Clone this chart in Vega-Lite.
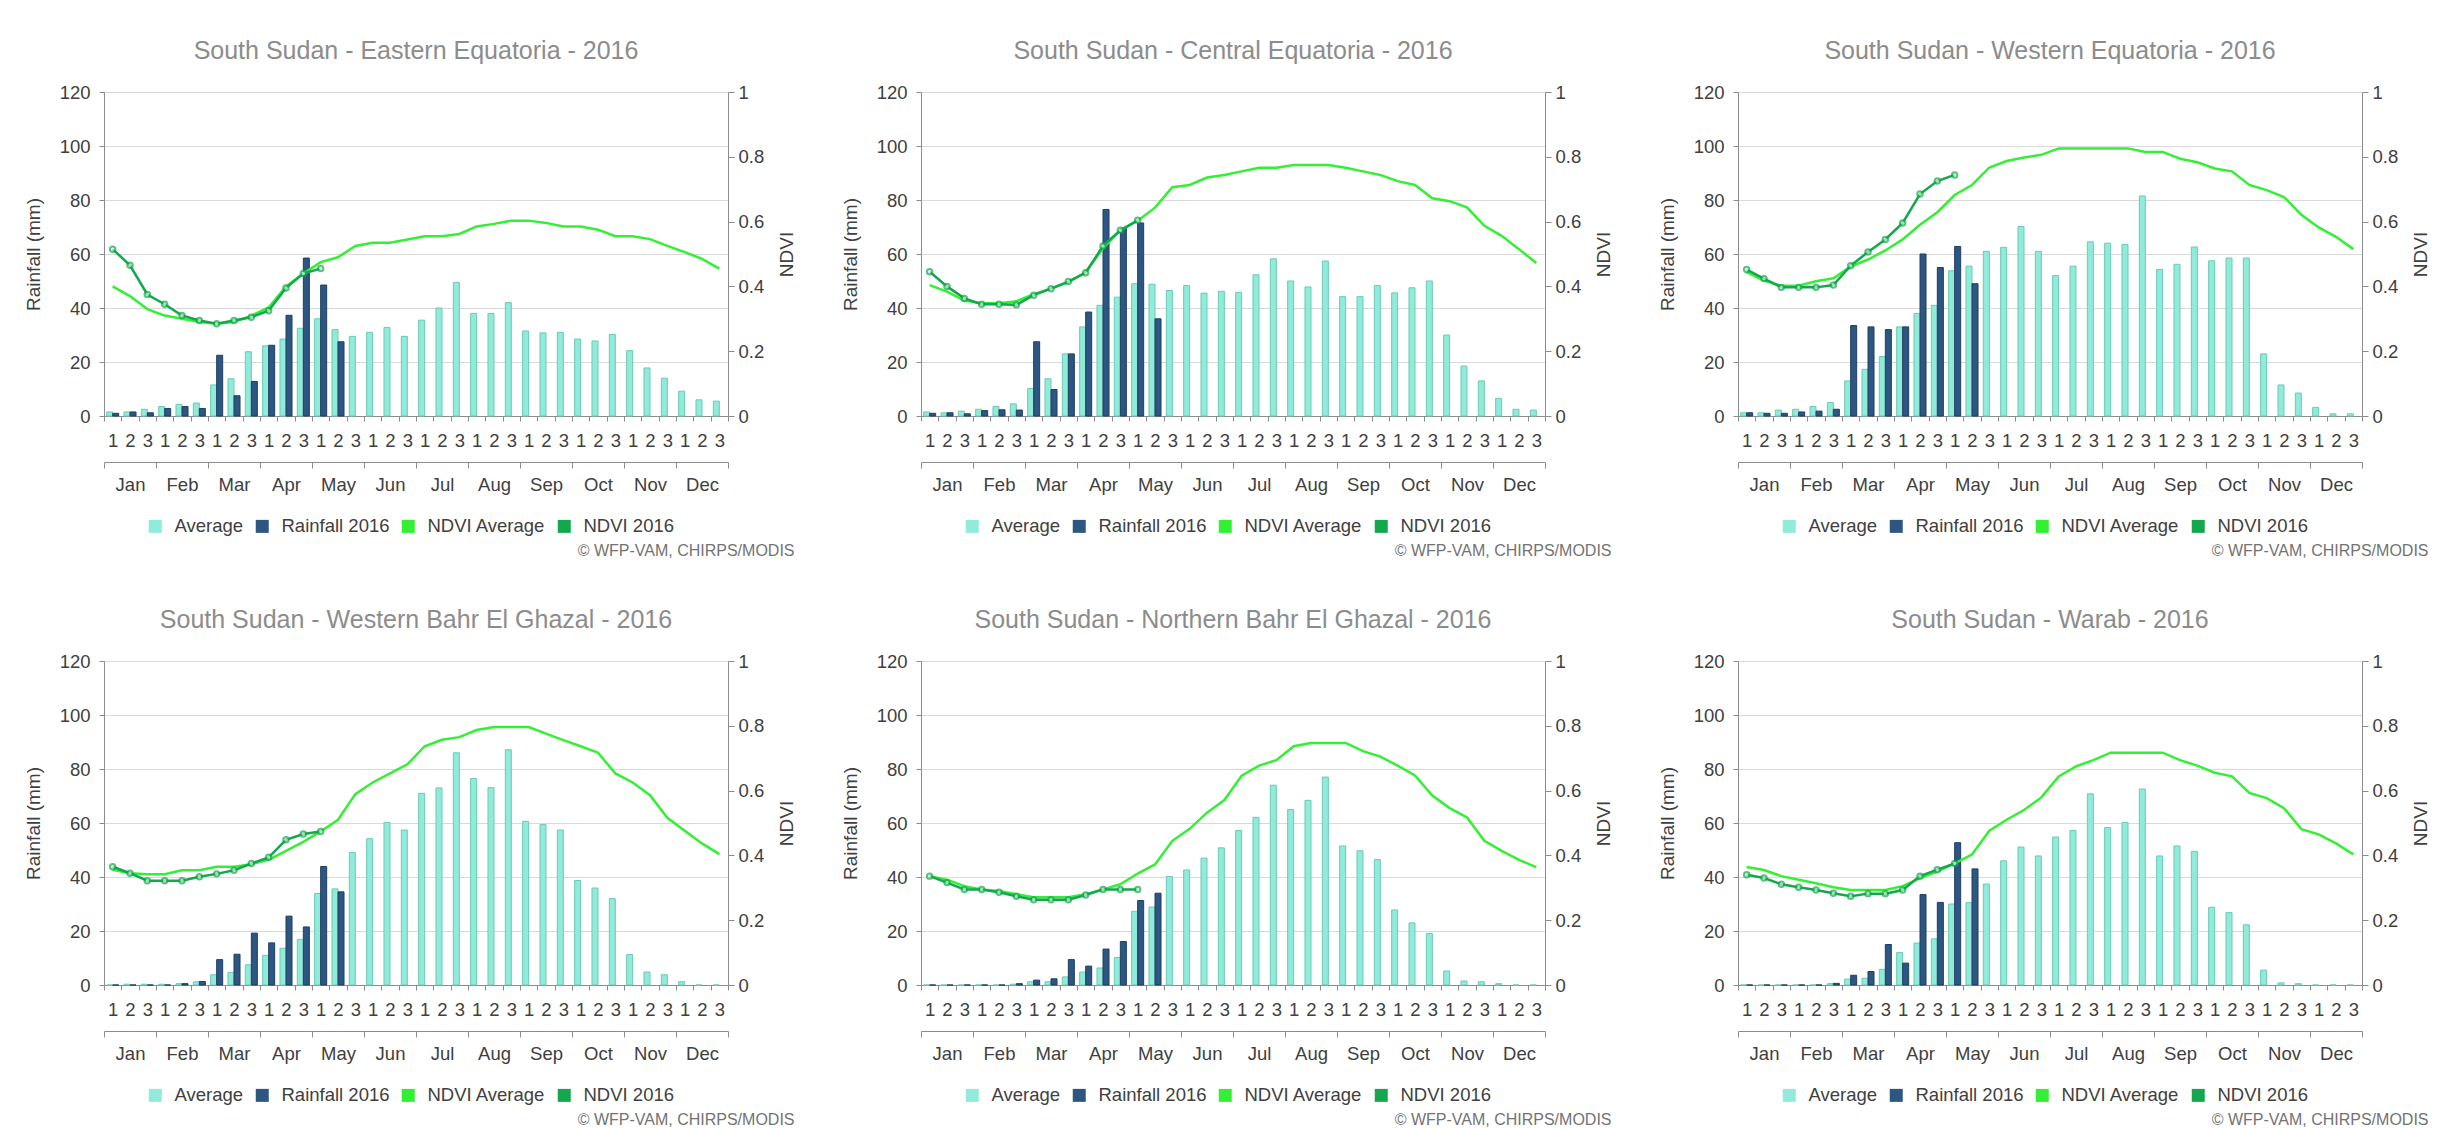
{
"$schema": "https://vega.github.io/schema/vega-lite/v6.json",
"background": "white",
"padding": {"left": 24, "top": 39, "right": 5, "bottom": 5},
"datasets": {
"months": [{"month":"Jan"},{"month":"Feb"},{"month":"Mar"},{"month":"Apr"},{"month":"May"},{"month":"Jun"},{"month":"Jul"},{"month":"Aug"},{"month":"Sep"},{"month":"Oct"},{"month":"Nov"},{"month":"Dec"}],
"ee_rain": [
{"dekad":0,"series":"Average","mm":1.5},{"dekad":1,"series":"Average","mm":1.5},{"dekad":2,"series":"Average","mm":2.5},{"dekad":3,"series":"Average","mm":3.5},{"dekad":4,"series":"Average","mm":4.3},{"dekad":5,"series":"Average","mm":4.8},{"dekad":6,"series":"Average","mm":11.5},{"dekad":7,"series":"Average","mm":13.8},{"dekad":8,"series":"Average","mm":23.8},{"dekad":9,"series":"Average","mm":26},{"dekad":10,"series":"Average","mm":28.5},{"dekad":11,"series":"Average","mm":32.5},{"dekad":12,"series":"Average","mm":36},{"dekad":13,"series":"Average","mm":32},{"dekad":14,"series":"Average","mm":29.5},{"dekad":15,"series":"Average","mm":31},{"dekad":16,"series":"Average","mm":32.8},{"dekad":17,"series":"Average","mm":29.5},{"dekad":18,"series":"Average","mm":35.5},{"dekad":19,"series":"Average","mm":40},{"dekad":20,"series":"Average","mm":49.5},{"dekad":21,"series":"Average","mm":38},{"dekad":22,"series":"Average","mm":38},{"dekad":23,"series":"Average","mm":42},{"dekad":24,"series":"Average","mm":31.5},{"dekad":25,"series":"Average","mm":30.8},{"dekad":26,"series":"Average","mm":31},{"dekad":27,"series":"Average","mm":28.5},{"dekad":28,"series":"Average","mm":27.8},{"dekad":29,"series":"Average","mm":30.2},{"dekad":30,"series":"Average","mm":24.2},{"dekad":31,"series":"Average","mm":17.8},{"dekad":32,"series":"Average","mm":14},{"dekad":33,"series":"Average","mm":9.2},{"dekad":34,"series":"Average","mm":6},{"dekad":35,"series":"Average","mm":5.5},
{"dekad":0,"series":"Rainfall 2016","mm":1},{"dekad":1,"series":"Rainfall 2016","mm":1.5},{"dekad":2,"series":"Rainfall 2016","mm":1.2},{"dekad":3,"series":"Rainfall 2016","mm":2.8},{"dekad":4,"series":"Rainfall 2016","mm":3.5},{"dekad":5,"series":"Rainfall 2016","mm":2.8},{"dekad":6,"series":"Rainfall 2016","mm":22.5},{"dekad":7,"series":"Rainfall 2016","mm":7.5},{"dekad":8,"series":"Rainfall 2016","mm":12.8},{"dekad":9,"series":"Rainfall 2016","mm":26.2},{"dekad":10,"series":"Rainfall 2016","mm":37.3},{"dekad":11,"series":"Rainfall 2016","mm":58.5},{"dekad":12,"series":"Rainfall 2016","mm":48.5},{"dekad":13,"series":"Rainfall 2016","mm":27.5}],
"ee_ndvi": [
{"dekad":0,"series":"NDVI Average","ndvi":0.4},{"dekad":1,"series":"NDVI Average","ndvi":0.37},{"dekad":2,"series":"NDVI Average","ndvi":0.33},{"dekad":3,"series":"NDVI Average","ndvi":0.31},{"dekad":4,"series":"NDVI Average","ndvi":0.3},{"dekad":5,"series":"NDVI Average","ndvi":0.29},{"dekad":6,"series":"NDVI Average","ndvi":0.285},{"dekad":7,"series":"NDVI Average","ndvi":0.29},{"dekad":8,"series":"NDVI Average","ndvi":0.31},{"dekad":9,"series":"NDVI Average","ndvi":0.335},{"dekad":10,"series":"NDVI Average","ndvi":0.4},{"dekad":11,"series":"NDVI Average","ndvi":0.44},{"dekad":12,"series":"NDVI Average","ndvi":0.475},{"dekad":13,"series":"NDVI Average","ndvi":0.49},{"dekad":14,"series":"NDVI Average","ndvi":0.525},{"dekad":15,"series":"NDVI Average","ndvi":0.535},{"dekad":16,"series":"NDVI Average","ndvi":0.535},{"dekad":17,"series":"NDVI Average","ndvi":0.545},{"dekad":18,"series":"NDVI Average","ndvi":0.555},{"dekad":19,"series":"NDVI Average","ndvi":0.555},{"dekad":20,"series":"NDVI Average","ndvi":0.562},{"dekad":21,"series":"NDVI Average","ndvi":0.585},{"dekad":22,"series":"NDVI Average","ndvi":0.593},{"dekad":23,"series":"NDVI Average","ndvi":0.603},{"dekad":24,"series":"NDVI Average","ndvi":0.603},{"dekad":25,"series":"NDVI Average","ndvi":0.596},{"dekad":26,"series":"NDVI Average","ndvi":0.585},{"dekad":27,"series":"NDVI Average","ndvi":0.585},{"dekad":28,"series":"NDVI Average","ndvi":0.575},{"dekad":29,"series":"NDVI Average","ndvi":0.555},{"dekad":30,"series":"NDVI Average","ndvi":0.555},{"dekad":31,"series":"NDVI Average","ndvi":0.546},{"dekad":32,"series":"NDVI Average","ndvi":0.525},{"dekad":33,"series":"NDVI Average","ndvi":0.506},{"dekad":34,"series":"NDVI Average","ndvi":0.485},{"dekad":35,"series":"NDVI Average","ndvi":0.455},
{"dekad":0,"series":"NDVI 2016","ndvi":0.515},{"dekad":1,"series":"NDVI 2016","ndvi":0.465},{"dekad":2,"series":"NDVI 2016","ndvi":0.375},{"dekad":3,"series":"NDVI 2016","ndvi":0.345},{"dekad":4,"series":"NDVI 2016","ndvi":0.31},{"dekad":5,"series":"NDVI 2016","ndvi":0.295},{"dekad":6,"series":"NDVI 2016","ndvi":0.285},{"dekad":7,"series":"NDVI 2016","ndvi":0.295},{"dekad":8,"series":"NDVI 2016","ndvi":0.305},{"dekad":9,"series":"NDVI 2016","ndvi":0.325},{"dekad":10,"series":"NDVI 2016","ndvi":0.395},{"dekad":11,"series":"NDVI 2016","ndvi":0.44},{"dekad":12,"series":"NDVI 2016","ndvi":0.455}],
"ce_rain": [
{"dekad":0,"series":"Average","mm":1.5},{"dekad":1,"series":"Average","mm":1.2},{"dekad":2,"series":"Average","mm":1.8},{"dekad":3,"series":"Average","mm":2.5},{"dekad":4,"series":"Average","mm":3.5},{"dekad":5,"series":"Average","mm":4.5},{"dekad":6,"series":"Average","mm":10.2},{"dekad":7,"series":"Average","mm":13.8},{"dekad":8,"series":"Average","mm":23},{"dekad":9,"series":"Average","mm":33},{"dekad":10,"series":"Average","mm":41},{"dekad":11,"series":"Average","mm":44},{"dekad":12,"series":"Average","mm":49},{"dekad":13,"series":"Average","mm":48.8},{"dekad":14,"series":"Average","mm":46.5},{"dekad":15,"series":"Average","mm":48.3},{"dekad":16,"series":"Average","mm":45.5},{"dekad":17,"series":"Average","mm":46.2},{"dekad":18,"series":"Average","mm":45.8},{"dekad":19,"series":"Average","mm":52.3},{"dekad":20,"series":"Average","mm":58.2},{"dekad":21,"series":"Average","mm":50},{"dekad":22,"series":"Average","mm":47.8},{"dekad":23,"series":"Average","mm":57.4},{"dekad":24,"series":"Average","mm":44.2},{"dekad":25,"series":"Average","mm":44.2},{"dekad":26,"series":"Average","mm":48.3},{"dekad":27,"series":"Average","mm":45.6},{"dekad":28,"series":"Average","mm":47.5},{"dekad":29,"series":"Average","mm":50},{"dekad":30,"series":"Average","mm":30},{"dekad":31,"series":"Average","mm":18.5},{"dekad":32,"series":"Average","mm":13},{"dekad":33,"series":"Average","mm":6.5},{"dekad":34,"series":"Average","mm":2.5},{"dekad":35,"series":"Average","mm":2.2},
{"dekad":0,"series":"Rainfall 2016","mm":1},{"dekad":1,"series":"Rainfall 2016","mm":1.2},{"dekad":2,"series":"Rainfall 2016","mm":0.8},{"dekad":3,"series":"Rainfall 2016","mm":2},{"dekad":4,"series":"Rainfall 2016","mm":2.3},{"dekad":5,"series":"Rainfall 2016","mm":2.2},{"dekad":6,"series":"Rainfall 2016","mm":27.5},{"dekad":7,"series":"Rainfall 2016","mm":9.8},{"dekad":8,"series":"Rainfall 2016","mm":23},{"dekad":9,"series":"Rainfall 2016","mm":38.5},{"dekad":10,"series":"Rainfall 2016","mm":76.5},{"dekad":11,"series":"Rainfall 2016","mm":69.5},{"dekad":12,"series":"Rainfall 2016","mm":71.5},{"dekad":13,"series":"Rainfall 2016","mm":36}],
"ce_ndvi": [
{"dekad":0,"series":"NDVI Average","ndvi":0.404},{"dekad":1,"series":"NDVI Average","ndvi":0.384},{"dekad":2,"series":"NDVI Average","ndvi":0.356},{"dekad":3,"series":"NDVI Average","ndvi":0.348},{"dekad":4,"series":"NDVI Average","ndvi":0.348},{"dekad":5,"series":"NDVI Average","ndvi":0.354},{"dekad":6,"series":"NDVI Average","ndvi":0.376},{"dekad":7,"series":"NDVI Average","ndvi":0.393},{"dekad":8,"series":"NDVI Average","ndvi":0.413},{"dekad":9,"series":"NDVI Average","ndvi":0.444},{"dekad":10,"series":"NDVI Average","ndvi":0.517},{"dekad":11,"series":"NDVI Average","ndvi":0.573},{"dekad":12,"series":"NDVI Average","ndvi":0.603},{"dekad":13,"series":"NDVI Average","ndvi":0.643},{"dekad":14,"series":"NDVI Average","ndvi":0.706},{"dekad":15,"series":"NDVI Average","ndvi":0.713},{"dekad":16,"series":"NDVI Average","ndvi":0.736},{"dekad":17,"series":"NDVI Average","ndvi":0.744},{"dekad":18,"series":"NDVI Average","ndvi":0.755},{"dekad":19,"series":"NDVI Average","ndvi":0.766},{"dekad":20,"series":"NDVI Average","ndvi":0.766},{"dekad":21,"series":"NDVI Average","ndvi":0.775},{"dekad":22,"series":"NDVI Average","ndvi":0.775},{"dekad":23,"series":"NDVI Average","ndvi":0.775},{"dekad":24,"series":"NDVI Average","ndvi":0.766},{"dekad":25,"series":"NDVI Average","ndvi":0.755},{"dekad":26,"series":"NDVI Average","ndvi":0.744},{"dekad":27,"series":"NDVI Average","ndvi":0.725},{"dekad":28,"series":"NDVI Average","ndvi":0.713},{"dekad":29,"series":"NDVI Average","ndvi":0.672},{"dekad":30,"series":"NDVI Average","ndvi":0.663},{"dekad":31,"series":"NDVI Average","ndvi":0.644},{"dekad":32,"series":"NDVI Average","ndvi":0.587},{"dekad":33,"series":"NDVI Average","ndvi":0.556},{"dekad":34,"series":"NDVI Average","ndvi":0.515},{"dekad":35,"series":"NDVI Average","ndvi":0.472},
{"dekad":0,"series":"NDVI 2016","ndvi":0.445},{"dekad":1,"series":"NDVI 2016","ndvi":0.4},{"dekad":2,"series":"NDVI 2016","ndvi":0.363},{"dekad":3,"series":"NDVI 2016","ndvi":0.345},{"dekad":4,"series":"NDVI 2016","ndvi":0.345},{"dekad":5,"series":"NDVI 2016","ndvi":0.343},{"dekad":6,"series":"NDVI 2016","ndvi":0.373},{"dekad":7,"series":"NDVI 2016","ndvi":0.393},{"dekad":8,"series":"NDVI 2016","ndvi":0.415},{"dekad":9,"series":"NDVI 2016","ndvi":0.442},{"dekad":10,"series":"NDVI 2016","ndvi":0.525},{"dekad":11,"series":"NDVI 2016","ndvi":0.573},{"dekad":12,"series":"NDVI 2016","ndvi":0.604}],
"we_rain": [
{"dekad":0,"series":"Average","mm":1.2},{"dekad":1,"series":"Average","mm":1.2},{"dekad":2,"series":"Average","mm":2.2},{"dekad":3,"series":"Average","mm":2.5},{"dekad":4,"series":"Average","mm":3.5},{"dekad":5,"series":"Average","mm":5},{"dekad":6,"series":"Average","mm":13},{"dekad":7,"series":"Average","mm":17.3},{"dekad":8,"series":"Average","mm":22},{"dekad":9,"series":"Average","mm":33},{"dekad":10,"series":"Average","mm":38},{"dekad":11,"series":"Average","mm":41},{"dekad":12,"series":"Average","mm":53.8},{"dekad":13,"series":"Average","mm":55.5},{"dekad":14,"series":"Average","mm":61},{"dekad":15,"series":"Average","mm":62.5},{"dekad":16,"series":"Average","mm":70.2},{"dekad":17,"series":"Average","mm":61},{"dekad":18,"series":"Average","mm":52},{"dekad":19,"series":"Average","mm":55.5},{"dekad":20,"series":"Average","mm":64.5},{"dekad":21,"series":"Average","mm":64},{"dekad":22,"series":"Average","mm":63.5},{"dekad":23,"series":"Average","mm":81.5},{"dekad":24,"series":"Average","mm":54.3},{"dekad":25,"series":"Average","mm":56.2},{"dekad":26,"series":"Average","mm":62.6},{"dekad":27,"series":"Average","mm":57.5},{"dekad":28,"series":"Average","mm":58.5},{"dekad":29,"series":"Average","mm":58.5},{"dekad":30,"series":"Average","mm":23},{"dekad":31,"series":"Average","mm":11.5},{"dekad":32,"series":"Average","mm":8.5},{"dekad":33,"series":"Average","mm":3.2},{"dekad":34,"series":"Average","mm":0.8},{"dekad":35,"series":"Average","mm":0.8},
{"dekad":0,"series":"Rainfall 2016","mm":1.2},{"dekad":1,"series":"Rainfall 2016","mm":1},{"dekad":2,"series":"Rainfall 2016","mm":1},{"dekad":3,"series":"Rainfall 2016","mm":1.5},{"dekad":4,"series":"Rainfall 2016","mm":1.8},{"dekad":5,"series":"Rainfall 2016","mm":2.5},{"dekad":6,"series":"Rainfall 2016","mm":33.5},{"dekad":7,"series":"Rainfall 2016","mm":33},{"dekad":8,"series":"Rainfall 2016","mm":32},{"dekad":9,"series":"Rainfall 2016","mm":33},{"dekad":10,"series":"Rainfall 2016","mm":60},{"dekad":11,"series":"Rainfall 2016","mm":55},{"dekad":12,"series":"Rainfall 2016","mm":62.8},{"dekad":13,"series":"Rainfall 2016","mm":49}],
"we_ndvi": [
{"dekad":0,"series":"NDVI Average","ndvi":0.444},{"dekad":1,"series":"NDVI Average","ndvi":0.418},{"dekad":2,"series":"NDVI Average","ndvi":0.402},{"dekad":3,"series":"NDVI Average","ndvi":0.402},{"dekad":4,"series":"NDVI Average","ndvi":0.416},{"dekad":5,"series":"NDVI Average","ndvi":0.425},{"dekad":6,"series":"NDVI Average","ndvi":0.461},{"dekad":7,"series":"NDVI Average","ndvi":0.483},{"dekad":8,"series":"NDVI Average","ndvi":0.511},{"dekad":9,"series":"NDVI Average","ndvi":0.545},{"dekad":10,"series":"NDVI Average","ndvi":0.59},{"dekad":11,"series":"NDVI Average","ndvi":0.629},{"dekad":12,"series":"NDVI Average","ndvi":0.682},{"dekad":13,"series":"NDVI Average","ndvi":0.713},{"dekad":14,"series":"NDVI Average","ndvi":0.767},{"dekad":15,"series":"NDVI Average","ndvi":0.787},{"dekad":16,"series":"NDVI Average","ndvi":0.798},{"dekad":17,"series":"NDVI Average","ndvi":0.806},{"dekad":18,"series":"NDVI Average","ndvi":0.826},{"dekad":19,"series":"NDVI Average","ndvi":0.826},{"dekad":20,"series":"NDVI Average","ndvi":0.826},{"dekad":21,"series":"NDVI Average","ndvi":0.826},{"dekad":22,"series":"NDVI Average","ndvi":0.826},{"dekad":23,"series":"NDVI Average","ndvi":0.815},{"dekad":24,"series":"NDVI Average","ndvi":0.815},{"dekad":25,"series":"NDVI Average","ndvi":0.794},{"dekad":26,"series":"NDVI Average","ndvi":0.783},{"dekad":27,"series":"NDVI Average","ndvi":0.764},{"dekad":28,"series":"NDVI Average","ndvi":0.755},{"dekad":29,"series":"NDVI Average","ndvi":0.713},{"dekad":30,"series":"NDVI Average","ndvi":0.697},{"dekad":31,"series":"NDVI Average","ndvi":0.676},{"dekad":32,"series":"NDVI Average","ndvi":0.621},{"dekad":33,"series":"NDVI Average","ndvi":0.582},{"dekad":34,"series":"NDVI Average","ndvi":0.553},{"dekad":35,"series":"NDVI Average","ndvi":0.515},
{"dekad":0,"series":"NDVI 2016","ndvi":0.452},{"dekad":1,"series":"NDVI 2016","ndvi":0.424},{"dekad":2,"series":"NDVI 2016","ndvi":0.397},{"dekad":3,"series":"NDVI 2016","ndvi":0.397},{"dekad":4,"series":"NDVI 2016","ndvi":0.397},{"dekad":5,"series":"NDVI 2016","ndvi":0.404},{"dekad":6,"series":"NDVI 2016","ndvi":0.464},{"dekad":7,"series":"NDVI 2016","ndvi":0.506},{"dekad":8,"series":"NDVI 2016","ndvi":0.545},{"dekad":9,"series":"NDVI 2016","ndvi":0.596},{"dekad":10,"series":"NDVI 2016","ndvi":0.685},{"dekad":11,"series":"NDVI 2016","ndvi":0.725},{"dekad":12,"series":"NDVI 2016","ndvi":0.744}],
"wbg_rain": [
{"dekad":0,"series":"Average","mm":0},{"dekad":1,"series":"Average","mm":0.3},{"dekad":2,"series":"Average","mm":0.3},{"dekad":3,"series":"Average","mm":0.3},{"dekad":4,"series":"Average","mm":0.5},{"dekad":5,"series":"Average","mm":1.2},{"dekad":6,"series":"Average","mm":3.8},{"dekad":7,"series":"Average","mm":4.7},{"dekad":8,"series":"Average","mm":7.5},{"dekad":9,"series":"Average","mm":11},{"dekad":10,"series":"Average","mm":13.6},{"dekad":11,"series":"Average","mm":16.9},{"dekad":12,"series":"Average","mm":33.9},{"dekad":13,"series":"Average","mm":35.6},{"dekad":14,"series":"Average","mm":49.1},{"dekad":15,"series":"Average","mm":54.2},{"dekad":16,"series":"Average","mm":60.2},{"dekad":17,"series":"Average","mm":57.4},{"dekad":18,"series":"Average","mm":71},{"dekad":19,"series":"Average","mm":73},{"dekad":20,"series":"Average","mm":86},{"dekad":21,"series":"Average","mm":76.5},{"dekad":22,"series":"Average","mm":73.1},{"dekad":23,"series":"Average","mm":87.1},{"dekad":24,"series":"Average","mm":60.6},{"dekad":25,"series":"Average","mm":59.4},{"dekad":26,"series":"Average","mm":57.4},{"dekad":27,"series":"Average","mm":38.7},{"dekad":28,"series":"Average","mm":35.9},{"dekad":29,"series":"Average","mm":32},{"dekad":30,"series":"Average","mm":11.3},{"dekad":31,"series":"Average","mm":4.8},{"dekad":32,"series":"Average","mm":3.8},{"dekad":33,"series":"Average","mm":1.2},{"dekad":34,"series":"Average","mm":0},{"dekad":35,"series":"Average","mm":0},
{"dekad":0,"series":"Rainfall 2016","mm":0},{"dekad":1,"series":"Rainfall 2016","mm":0},{"dekad":2,"series":"Rainfall 2016","mm":0},{"dekad":3,"series":"Rainfall 2016","mm":0},{"dekad":4,"series":"Rainfall 2016","mm":0.5},{"dekad":5,"series":"Rainfall 2016","mm":1.3},{"dekad":6,"series":"Rainfall 2016","mm":9.4},{"dekad":7,"series":"Rainfall 2016","mm":11.4},{"dekad":8,"series":"Rainfall 2016","mm":19.2},{"dekad":9,"series":"Rainfall 2016","mm":15.6},{"dekad":10,"series":"Rainfall 2016","mm":25.5},{"dekad":11,"series":"Rainfall 2016","mm":21.5},{"dekad":12,"series":"Rainfall 2016","mm":43.9},{"dekad":13,"series":"Rainfall 2016","mm":34.5}],
"wbg_ndvi": [
{"dekad":0,"series":"NDVI Average","ndvi":0.356},{"dekad":1,"series":"NDVI Average","ndvi":0.345},{"dekad":2,"series":"NDVI Average","ndvi":0.342},{"dekad":3,"series":"NDVI Average","ndvi":0.342},{"dekad":4,"series":"NDVI Average","ndvi":0.354},{"dekad":5,"series":"NDVI Average","ndvi":0.354},{"dekad":6,"series":"NDVI Average","ndvi":0.365},{"dekad":7,"series":"NDVI Average","ndvi":0.365},{"dekad":8,"series":"NDVI Average","ndvi":0.373},{"dekad":9,"series":"NDVI Average","ndvi":0.386},{"dekad":10,"series":"NDVI Average","ndvi":0.414},{"dekad":11,"series":"NDVI Average","ndvi":0.442},{"dekad":12,"series":"NDVI Average","ndvi":0.474},{"dekad":13,"series":"NDVI Average","ndvi":0.51},{"dekad":14,"series":"NDVI Average","ndvi":0.589},{"dekad":15,"series":"NDVI Average","ndvi":0.625},{"dekad":16,"series":"NDVI Average","ndvi":0.653},{"dekad":17,"series":"NDVI Average","ndvi":0.681},{"dekad":18,"series":"NDVI Average","ndvi":0.737},{"dekad":19,"series":"NDVI Average","ndvi":0.757},{"dekad":20,"series":"NDVI Average","ndvi":0.765},{"dekad":21,"series":"NDVI Average","ndvi":0.787},{"dekad":22,"series":"NDVI Average","ndvi":0.796},{"dekad":23,"series":"NDVI Average","ndvi":0.796},{"dekad":24,"series":"NDVI Average","ndvi":0.796},{"dekad":25,"series":"NDVI Average","ndvi":0.776},{"dekad":26,"series":"NDVI Average","ndvi":0.756},{"dekad":27,"series":"NDVI Average","ndvi":0.737},{"dekad":28,"series":"NDVI Average","ndvi":0.717},{"dekad":29,"series":"NDVI Average","ndvi":0.653},{"dekad":30,"series":"NDVI Average","ndvi":0.625},{"dekad":31,"series":"NDVI Average","ndvi":0.586},{"dekad":32,"series":"NDVI Average","ndvi":0.516},{"dekad":33,"series":"NDVI Average","ndvi":0.476},{"dekad":34,"series":"NDVI Average","ndvi":0.437},{"dekad":35,"series":"NDVI Average","ndvi":0.404},
{"dekad":0,"series":"NDVI 2016","ndvi":0.365},{"dekad":1,"series":"NDVI 2016","ndvi":0.345},{"dekad":2,"series":"NDVI 2016","ndvi":0.322},{"dekad":3,"series":"NDVI 2016","ndvi":0.322},{"dekad":4,"series":"NDVI 2016","ndvi":0.322},{"dekad":5,"series":"NDVI 2016","ndvi":0.334},{"dekad":6,"series":"NDVI 2016","ndvi":0.343},{"dekad":7,"series":"NDVI 2016","ndvi":0.354},{"dekad":8,"series":"NDVI 2016","ndvi":0.375},{"dekad":9,"series":"NDVI 2016","ndvi":0.394},{"dekad":10,"series":"NDVI 2016","ndvi":0.448},{"dekad":11,"series":"NDVI 2016","ndvi":0.466},{"dekad":12,"series":"NDVI 2016","ndvi":0.474}],
"nbg_rain": [
{"dekad":0,"series":"Average","mm":0},{"dekad":1,"series":"Average","mm":0},{"dekad":2,"series":"Average","mm":0},{"dekad":3,"series":"Average","mm":0},{"dekad":4,"series":"Average","mm":0},{"dekad":5,"series":"Average","mm":0.3},{"dekad":6,"series":"Average","mm":1.2},{"dekad":7,"series":"Average","mm":1.2},{"dekad":8,"series":"Average","mm":3},{"dekad":9,"series":"Average","mm":4.8},{"dekad":10,"series":"Average","mm":6.3},{"dekad":11,"series":"Average","mm":10.2},{"dekad":12,"series":"Average","mm":27.3},{"dekad":13,"series":"Average","mm":28.9},{"dekad":14,"series":"Average","mm":40.2},{"dekad":15,"series":"Average","mm":42.6},{"dekad":16,"series":"Average","mm":47},{"dekad":17,"series":"Average","mm":50.8},{"dekad":18,"series":"Average","mm":57.2},{"dekad":19,"series":"Average","mm":62.1},{"dekad":20,"series":"Average","mm":74},{"dekad":21,"series":"Average","mm":65},{"dekad":22,"series":"Average","mm":68.4},{"dekad":23,"series":"Average","mm":77},{"dekad":24,"series":"Average","mm":51.5},{"dekad":25,"series":"Average","mm":49.7},{"dekad":26,"series":"Average","mm":46.5},{"dekad":27,"series":"Average","mm":27.8},{"dekad":28,"series":"Average","mm":23},{"dekad":29,"series":"Average","mm":19.1},{"dekad":30,"series":"Average","mm":5.2},{"dekad":31,"series":"Average","mm":1.5},{"dekad":32,"series":"Average","mm":1.2},{"dekad":33,"series":"Average","mm":0.5},{"dekad":34,"series":"Average","mm":0},{"dekad":35,"series":"Average","mm":0},
{"dekad":0,"series":"Rainfall 2016","mm":0},{"dekad":1,"series":"Rainfall 2016","mm":0},{"dekad":2,"series":"Rainfall 2016","mm":0},{"dekad":3,"series":"Rainfall 2016","mm":0},{"dekad":4,"series":"Rainfall 2016","mm":0},{"dekad":5,"series":"Rainfall 2016","mm":0.5},{"dekad":6,"series":"Rainfall 2016","mm":1.8},{"dekad":7,"series":"Rainfall 2016","mm":2.3},{"dekad":8,"series":"Rainfall 2016","mm":9.4},{"dekad":9,"series":"Rainfall 2016","mm":7},{"dekad":10,"series":"Rainfall 2016","mm":13.3},{"dekad":11,"series":"Rainfall 2016","mm":16.1},{"dekad":12,"series":"Rainfall 2016","mm":31.3},{"dekad":13,"series":"Rainfall 2016","mm":34}],
"nbg_ndvi": [
{"dekad":0,"series":"NDVI Average","ndvi":0.336},{"dekad":1,"series":"NDVI Average","ndvi":0.325},{"dekad":2,"series":"NDVI Average","ndvi":0.305},{"dekad":3,"series":"NDVI Average","ndvi":0.295},{"dekad":4,"series":"NDVI Average","ndvi":0.29},{"dekad":5,"series":"NDVI Average","ndvi":0.28},{"dekad":6,"series":"NDVI Average","ndvi":0.271},{"dekad":7,"series":"NDVI Average","ndvi":0.271},{"dekad":8,"series":"NDVI Average","ndvi":0.271},{"dekad":9,"series":"NDVI Average","ndvi":0.28},{"dekad":10,"series":"NDVI Average","ndvi":0.295},{"dekad":11,"series":"NDVI Average","ndvi":0.311},{"dekad":12,"series":"NDVI Average","ndvi":0.344},{"dekad":13,"series":"NDVI Average","ndvi":0.372},{"dekad":14,"series":"NDVI Average","ndvi":0.445},{"dekad":15,"series":"NDVI Average","ndvi":0.482},{"dekad":16,"series":"NDVI Average","ndvi":0.532},{"dekad":17,"series":"NDVI Average","ndvi":0.571},{"dekad":18,"series":"NDVI Average","ndvi":0.646},{"dekad":19,"series":"NDVI Average","ndvi":0.677},{"dekad":20,"series":"NDVI Average","ndvi":0.694},{"dekad":21,"series":"NDVI Average","ndvi":0.737},{"dekad":22,"series":"NDVI Average","ndvi":0.747},{"dekad":23,"series":"NDVI Average","ndvi":0.747},{"dekad":24,"series":"NDVI Average","ndvi":0.747},{"dekad":25,"series":"NDVI Average","ndvi":0.722},{"dekad":26,"series":"NDVI Average","ndvi":0.705},{"dekad":27,"series":"NDVI Average","ndvi":0.677},{"dekad":28,"series":"NDVI Average","ndvi":0.647},{"dekad":29,"series":"NDVI Average","ndvi":0.585},{"dekad":30,"series":"NDVI Average","ndvi":0.546},{"dekad":31,"series":"NDVI Average","ndvi":0.517},{"dekad":32,"series":"NDVI Average","ndvi":0.445},{"dekad":33,"series":"NDVI Average","ndvi":0.414},{"dekad":34,"series":"NDVI Average","ndvi":0.386},{"dekad":35,"series":"NDVI Average","ndvi":0.364},
{"dekad":0,"series":"NDVI 2016","ndvi":0.336},{"dekad":1,"series":"NDVI 2016","ndvi":0.316},{"dekad":2,"series":"NDVI 2016","ndvi":0.295},{"dekad":3,"series":"NDVI 2016","ndvi":0.295},{"dekad":4,"series":"NDVI 2016","ndvi":0.286},{"dekad":5,"series":"NDVI 2016","ndvi":0.274},{"dekad":6,"series":"NDVI 2016","ndvi":0.263},{"dekad":7,"series":"NDVI 2016","ndvi":0.263},{"dekad":8,"series":"NDVI 2016","ndvi":0.263},{"dekad":9,"series":"NDVI 2016","ndvi":0.278},{"dekad":10,"series":"NDVI 2016","ndvi":0.295},{"dekad":11,"series":"NDVI 2016","ndvi":0.295},{"dekad":12,"series":"NDVI 2016","ndvi":0.295}],
"wr_rain": [
{"dekad":0,"series":"Average","mm":0},{"dekad":1,"series":"Average","mm":0},{"dekad":2,"series":"Average","mm":0},{"dekad":3,"series":"Average","mm":0},{"dekad":4,"series":"Average","mm":0},{"dekad":5,"series":"Average","mm":0.5},{"dekad":6,"series":"Average","mm":2.2},{"dekad":7,"series":"Average","mm":2.5},{"dekad":8,"series":"Average","mm":5.8},{"dekad":9,"series":"Average","mm":12},{"dekad":10,"series":"Average","mm":15.5},{"dekad":11,"series":"Average","mm":17.1},{"dekad":12,"series":"Average","mm":30},{"dekad":13,"series":"Average","mm":30.5},{"dekad":14,"series":"Average","mm":37.4},{"dekad":15,"series":"Average","mm":46},{"dekad":16,"series":"Average","mm":51.1},{"dekad":17,"series":"Average","mm":47.8},{"dekad":18,"series":"Average","mm":54.8},{"dekad":19,"series":"Average","mm":57.2},{"dekad":20,"series":"Average","mm":70.8},{"dekad":21,"series":"Average","mm":58.3},{"dekad":22,"series":"Average","mm":60.2},{"dekad":23,"series":"Average","mm":72.6},{"dekad":24,"series":"Average","mm":47.8},{"dekad":25,"series":"Average","mm":51.5},{"dekad":26,"series":"Average","mm":49.5},{"dekad":27,"series":"Average","mm":28.8},{"dekad":28,"series":"Average","mm":26.8},{"dekad":29,"series":"Average","mm":22.3},{"dekad":30,"series":"Average","mm":5.5},{"dekad":31,"series":"Average","mm":0.8},{"dekad":32,"series":"Average","mm":0.5},{"dekad":33,"series":"Average","mm":0},{"dekad":34,"series":"Average","mm":0},{"dekad":35,"series":"Average","mm":0},
{"dekad":0,"series":"Rainfall 2016","mm":0},{"dekad":1,"series":"Rainfall 2016","mm":0},{"dekad":2,"series":"Rainfall 2016","mm":0},{"dekad":3,"series":"Rainfall 2016","mm":0},{"dekad":4,"series":"Rainfall 2016","mm":0},{"dekad":5,"series":"Rainfall 2016","mm":0.6},{"dekad":6,"series":"Rainfall 2016","mm":3.6},{"dekad":7,"series":"Rainfall 2016","mm":5},{"dekad":8,"series":"Rainfall 2016","mm":15},{"dekad":9,"series":"Rainfall 2016","mm":8.1},{"dekad":10,"series":"Rainfall 2016","mm":33.5},{"dekad":11,"series":"Rainfall 2016","mm":30.6},{"dekad":12,"series":"Rainfall 2016","mm":52.7},{"dekad":13,"series":"Rainfall 2016","mm":43}],
"wr_ndvi": [
{"dekad":0,"series":"NDVI Average","ndvi":0.364},{"dekad":1,"series":"NDVI Average","ndvi":0.355},{"dekad":2,"series":"NDVI Average","ndvi":0.336},{"dekad":3,"series":"NDVI Average","ndvi":0.325},{"dekad":4,"series":"NDVI Average","ndvi":0.314},{"dekad":5,"series":"NDVI Average","ndvi":0.302},{"dekad":6,"series":"NDVI Average","ndvi":0.293},{"dekad":7,"series":"NDVI Average","ndvi":0.293},{"dekad":8,"series":"NDVI Average","ndvi":0.293},{"dekad":9,"series":"NDVI Average","ndvi":0.305},{"dekad":10,"series":"NDVI Average","ndvi":0.33},{"dekad":11,"series":"NDVI Average","ndvi":0.35},{"dekad":12,"series":"NDVI Average","ndvi":0.375},{"dekad":13,"series":"NDVI Average","ndvi":0.403},{"dekad":14,"series":"NDVI Average","ndvi":0.476},{"dekad":15,"series":"NDVI Average","ndvi":0.51},{"dekad":16,"series":"NDVI Average","ndvi":0.54},{"dekad":17,"series":"NDVI Average","ndvi":0.579},{"dekad":18,"series":"NDVI Average","ndvi":0.644},{"dekad":19,"series":"NDVI Average","ndvi":0.675},{"dekad":20,"series":"NDVI Average","ndvi":0.694},{"dekad":21,"series":"NDVI Average","ndvi":0.717},{"dekad":22,"series":"NDVI Average","ndvi":0.717},{"dekad":23,"series":"NDVI Average","ndvi":0.717},{"dekad":24,"series":"NDVI Average","ndvi":0.717},{"dekad":25,"series":"NDVI Average","ndvi":0.694},{"dekad":26,"series":"NDVI Average","ndvi":0.677},{"dekad":27,"series":"NDVI Average","ndvi":0.655},{"dekad":28,"series":"NDVI Average","ndvi":0.644},{"dekad":29,"series":"NDVI Average","ndvi":0.593},{"dekad":30,"series":"NDVI Average","ndvi":0.577},{"dekad":31,"series":"NDVI Average","ndvi":0.546},{"dekad":32,"series":"NDVI Average","ndvi":0.481},{"dekad":33,"series":"NDVI Average","ndvi":0.465},{"dekad":34,"series":"NDVI Average","ndvi":0.437},{"dekad":35,"series":"NDVI Average","ndvi":0.403},
{"dekad":0,"series":"NDVI 2016","ndvi":0.34},{"dekad":1,"series":"NDVI 2016","ndvi":0.33},{"dekad":2,"series":"NDVI 2016","ndvi":0.311},{"dekad":3,"series":"NDVI 2016","ndvi":0.302},{"dekad":4,"series":"NDVI 2016","ndvi":0.293},{"dekad":5,"series":"NDVI 2016","ndvi":0.283},{"dekad":6,"series":"NDVI 2016","ndvi":0.274},{"dekad":7,"series":"NDVI 2016","ndvi":0.282},{"dekad":8,"series":"NDVI 2016","ndvi":0.282},{"dekad":9,"series":"NDVI 2016","ndvi":0.293},{"dekad":10,"series":"NDVI 2016","ndvi":0.336},{"dekad":11,"series":"NDVI 2016","ndvi":0.356},{"dekad":12,"series":"NDVI 2016","ndvi":0.375}]
},
"columns": 3,
"spacing": {"column": 193, "row": 245},
"bounds": "flush",
"resolve": {"scale": {"color": "independent"}},
"concat": [
{"title": "South Sudan - Eastern Equatoria - 2016", "width": 624, "height": 324,
 "layer": [
  {"data": {"name": "ee_rain"}, "mark": {"type": "bar", "strokeWidth": 1},
   "encoding": {
    "x": {"field": "dekad", "type": "ordinal", "scale": {"type": "band", "domain": [0,1,2,3,4,5,6,7,8,9,10,11,12,13,14,15,16,17,18,19,20,21,22,23,24,25,26,27,28,29,30,31,32,33,34,35], "paddingInner": 0, "paddingOuter": 0}, "axis": {"orient": "bottom", "title": null, "labelExpr": "isValid(datum.value) ? datum.value % 3 + 1 : ''", "labelAngle": 0, "tickBand": "extent", "tickSize": 5, "labelPadding": 10, "labelOverlap": false, "grid": false}},
    "xOffset": {"field": "series", "type": "nominal", "scale": {"paddingInner": 0, "paddingOuter": 0.44}},
    "y": {"field": "mm", "type": "quantitative", "scale": {"domain": [0, 120]}, "axis": {"orient": "left", "title": "Rainfall (mm)", "values": [0, 20, 40, 60, 80, 100, 120], "grid": true, "tickSize": 5, "labelPadding": 9, "titlePadding": 16}},
    "color": {"field": "series", "type": "nominal", "scale": {"domain": ["Average", "Rainfall 2016", "NDVI Average", "NDVI 2016"], "range": ["#90ebd9", "#2d5683", "#34f034", "#14a84e"]}, "legend": {"orient": "none", "legendX": 42, "legendY": 425, "direction": "horizontal", "title": null}},
    "stroke": {"field": "series", "type": "nominal", "scale": {"domain": ["Average", "Rainfall 2016"], "range": ["#6ccab7", "#1f3f63"]}, "legend": null}}},
  {"data": {"name": "ee_ndvi"}, "mark": {"type": "line", "strokeWidth": 2.5},
   "encoding": {
    "x": {"field": "dekad", "type": "ordinal", "scale": {"type": "band", "domain": [0,1,2,3,4,5,6,7,8,9,10,11,12,13,14,15,16,17,18,19,20,21,22,23,24,25,26,27,28,29,30,31,32,33,34,35], "paddingInner": 0, "paddingOuter": 0}, "axis": null},
    "y": {"field": "ndvi", "type": "quantitative", "scale": {"domain": [0, 1]}, "axis": {"orient": "right", "title": "NDVI", "values": [0, 0.2, 0.4, 0.6, 0.8, 1], "format": ".1~f", "grid": false, "tickSize": 6, "labelPadding": 4, "titleAngle": 270, "titleBaseline": "top", "titlePadding": 14}},
    "color": {"field": "series", "type": "nominal", "legend": null}}},
  {"data": {"name": "ee_ndvi"}, "transform": [{"filter": "datum.series === 'NDVI 2016'"}], "mark": {"type": "point", "filled": false, "fill": "#d9f5e1", "size": 30, "strokeWidth": 2},
   "encoding": {
    "x": {"field": "dekad", "type": "ordinal", "scale": {"type": "band", "domain": [0,1,2,3,4,5,6,7,8,9,10,11,12,13,14,15,16,17,18,19,20,21,22,23,24,25,26,27,28,29,30,31,32,33,34,35], "paddingInner": 0, "paddingOuter": 0}, "axis": null},
    "y": {"field": "ndvi", "type": "quantitative", "scale": {"domain": [0, 1]}, "axis": null},
    "color": {"field": "series", "type": "nominal", "legend": null}}},
  {"data": {"name": "months"}, "mark": {"type": "tick", "opacity": 0},
   "encoding": {"x": {"field": "month", "type": "ordinal", "scale": {"type": "band", "domain": ["Jan","Feb","Mar","Apr","May","Jun","Jul","Aug","Sep","Oct","Nov","Dec"], "paddingInner": 0, "paddingOuter": 0},
    "axis": {"orient": "bottom", "offset": 46, "tickBand": "extent", "tickSize": 6, "labelPadding": 7, "labelAngle": 0, "labelOverlap": false, "grid": false, "title": "© WFP-VAM, CHIRPS/MODIS", "titleFontSize": 16, "titleColor": "#737373", "titleAnchor": "end", "titleAlign": "right", "titleBaseline": "middle", "titleX": 690, "titleY": 88}}}}],
 "resolve": {"scale": {"x": "independent", "y": "independent"}}},
{"title": "South Sudan - Central Equatoria - 2016", "width": 624, "height": 324,
 "layer": [
  {"data": {"name": "ce_rain"}, "mark": {"type": "bar", "strokeWidth": 1},
   "encoding": {
    "x": {"field": "dekad", "type": "ordinal", "scale": {"type": "band", "domain": [0,1,2,3,4,5,6,7,8,9,10,11,12,13,14,15,16,17,18,19,20,21,22,23,24,25,26,27,28,29,30,31,32,33,34,35], "paddingInner": 0, "paddingOuter": 0}, "axis": {"orient": "bottom", "title": null, "labelExpr": "isValid(datum.value) ? datum.value % 3 + 1 : ''", "labelAngle": 0, "tickBand": "extent", "tickSize": 5, "labelPadding": 10, "labelOverlap": false, "grid": false}},
    "xOffset": {"field": "series", "type": "nominal", "scale": {"paddingInner": 0, "paddingOuter": 0.44}},
    "y": {"field": "mm", "type": "quantitative", "scale": {"domain": [0, 120]}, "axis": {"orient": "left", "title": "Rainfall (mm)", "values": [0, 20, 40, 60, 80, 100, 120], "grid": true, "tickSize": 5, "labelPadding": 9, "titlePadding": 16}},
    "color": {"field": "series", "type": "nominal", "scale": {"domain": ["Average", "Rainfall 2016", "NDVI Average", "NDVI 2016"], "range": ["#90ebd9", "#2d5683", "#34f034", "#14a84e"]}, "legend": {"orient": "none", "legendX": 42, "legendY": 425, "direction": "horizontal", "title": null}},
    "stroke": {"field": "series", "type": "nominal", "scale": {"domain": ["Average", "Rainfall 2016"], "range": ["#6ccab7", "#1f3f63"]}, "legend": null}}},
  {"data": {"name": "ce_ndvi"}, "mark": {"type": "line", "strokeWidth": 2.5},
   "encoding": {
    "x": {"field": "dekad", "type": "ordinal", "scale": {"type": "band", "domain": [0,1,2,3,4,5,6,7,8,9,10,11,12,13,14,15,16,17,18,19,20,21,22,23,24,25,26,27,28,29,30,31,32,33,34,35], "paddingInner": 0, "paddingOuter": 0}, "axis": null},
    "y": {"field": "ndvi", "type": "quantitative", "scale": {"domain": [0, 1]}, "axis": {"orient": "right", "title": "NDVI", "values": [0, 0.2, 0.4, 0.6, 0.8, 1], "format": ".1~f", "grid": false, "tickSize": 6, "labelPadding": 4, "titleAngle": 270, "titleBaseline": "top", "titlePadding": 14}},
    "color": {"field": "series", "type": "nominal", "legend": null}}},
  {"data": {"name": "ce_ndvi"}, "transform": [{"filter": "datum.series === 'NDVI 2016'"}], "mark": {"type": "point", "filled": false, "fill": "#d9f5e1", "size": 30, "strokeWidth": 2},
   "encoding": {
    "x": {"field": "dekad", "type": "ordinal", "scale": {"type": "band", "domain": [0,1,2,3,4,5,6,7,8,9,10,11,12,13,14,15,16,17,18,19,20,21,22,23,24,25,26,27,28,29,30,31,32,33,34,35], "paddingInner": 0, "paddingOuter": 0}, "axis": null},
    "y": {"field": "ndvi", "type": "quantitative", "scale": {"domain": [0, 1]}, "axis": null},
    "color": {"field": "series", "type": "nominal", "legend": null}}},
  {"data": {"name": "months"}, "mark": {"type": "tick", "opacity": 0},
   "encoding": {"x": {"field": "month", "type": "ordinal", "scale": {"type": "band", "domain": ["Jan","Feb","Mar","Apr","May","Jun","Jul","Aug","Sep","Oct","Nov","Dec"], "paddingInner": 0, "paddingOuter": 0},
    "axis": {"orient": "bottom", "offset": 46, "tickBand": "extent", "tickSize": 6, "labelPadding": 7, "labelAngle": 0, "labelOverlap": false, "grid": false, "title": "© WFP-VAM, CHIRPS/MODIS", "titleFontSize": 16, "titleColor": "#737373", "titleAnchor": "end", "titleAlign": "right", "titleBaseline": "middle", "titleX": 690, "titleY": 88}}}}],
 "resolve": {"scale": {"x": "independent", "y": "independent"}}},
{"title": "South Sudan - Western Equatoria - 2016", "width": 624, "height": 324,
 "layer": [
  {"data": {"name": "we_rain"}, "mark": {"type": "bar", "strokeWidth": 1},
   "encoding": {
    "x": {"field": "dekad", "type": "ordinal", "scale": {"type": "band", "domain": [0,1,2,3,4,5,6,7,8,9,10,11,12,13,14,15,16,17,18,19,20,21,22,23,24,25,26,27,28,29,30,31,32,33,34,35], "paddingInner": 0, "paddingOuter": 0}, "axis": {"orient": "bottom", "title": null, "labelExpr": "isValid(datum.value) ? datum.value % 3 + 1 : ''", "labelAngle": 0, "tickBand": "extent", "tickSize": 5, "labelPadding": 10, "labelOverlap": false, "grid": false}},
    "xOffset": {"field": "series", "type": "nominal", "scale": {"paddingInner": 0, "paddingOuter": 0.44}},
    "y": {"field": "mm", "type": "quantitative", "scale": {"domain": [0, 120]}, "axis": {"orient": "left", "title": "Rainfall (mm)", "values": [0, 20, 40, 60, 80, 100, 120], "grid": true, "tickSize": 5, "labelPadding": 9, "titlePadding": 16}},
    "color": {"field": "series", "type": "nominal", "scale": {"domain": ["Average", "Rainfall 2016", "NDVI Average", "NDVI 2016"], "range": ["#90ebd9", "#2d5683", "#34f034", "#14a84e"]}, "legend": {"orient": "none", "legendX": 42, "legendY": 425, "direction": "horizontal", "title": null}},
    "stroke": {"field": "series", "type": "nominal", "scale": {"domain": ["Average", "Rainfall 2016"], "range": ["#6ccab7", "#1f3f63"]}, "legend": null}}},
  {"data": {"name": "we_ndvi"}, "mark": {"type": "line", "strokeWidth": 2.5},
   "encoding": {
    "x": {"field": "dekad", "type": "ordinal", "scale": {"type": "band", "domain": [0,1,2,3,4,5,6,7,8,9,10,11,12,13,14,15,16,17,18,19,20,21,22,23,24,25,26,27,28,29,30,31,32,33,34,35], "paddingInner": 0, "paddingOuter": 0}, "axis": null},
    "y": {"field": "ndvi", "type": "quantitative", "scale": {"domain": [0, 1]}, "axis": {"orient": "right", "title": "NDVI", "values": [0, 0.2, 0.4, 0.6, 0.8, 1], "format": ".1~f", "grid": false, "tickSize": 6, "labelPadding": 4, "titleAngle": 270, "titleBaseline": "top", "titlePadding": 14}},
    "color": {"field": "series", "type": "nominal", "legend": null}}},
  {"data": {"name": "we_ndvi"}, "transform": [{"filter": "datum.series === 'NDVI 2016'"}], "mark": {"type": "point", "filled": false, "fill": "#d9f5e1", "size": 30, "strokeWidth": 2},
   "encoding": {
    "x": {"field": "dekad", "type": "ordinal", "scale": {"type": "band", "domain": [0,1,2,3,4,5,6,7,8,9,10,11,12,13,14,15,16,17,18,19,20,21,22,23,24,25,26,27,28,29,30,31,32,33,34,35], "paddingInner": 0, "paddingOuter": 0}, "axis": null},
    "y": {"field": "ndvi", "type": "quantitative", "scale": {"domain": [0, 1]}, "axis": null},
    "color": {"field": "series", "type": "nominal", "legend": null}}},
  {"data": {"name": "months"}, "mark": {"type": "tick", "opacity": 0},
   "encoding": {"x": {"field": "month", "type": "ordinal", "scale": {"type": "band", "domain": ["Jan","Feb","Mar","Apr","May","Jun","Jul","Aug","Sep","Oct","Nov","Dec"], "paddingInner": 0, "paddingOuter": 0},
    "axis": {"orient": "bottom", "offset": 46, "tickBand": "extent", "tickSize": 6, "labelPadding": 7, "labelAngle": 0, "labelOverlap": false, "grid": false, "title": "© WFP-VAM, CHIRPS/MODIS", "titleFontSize": 16, "titleColor": "#737373", "titleAnchor": "end", "titleAlign": "right", "titleBaseline": "middle", "titleX": 690, "titleY": 88}}}}],
 "resolve": {"scale": {"x": "independent", "y": "independent"}}},
{"title": "South Sudan - Western Bahr El Ghazal - 2016", "width": 624, "height": 324,
 "layer": [
  {"data": {"name": "wbg_rain"}, "mark": {"type": "bar", "strokeWidth": 1},
   "encoding": {
    "x": {"field": "dekad", "type": "ordinal", "scale": {"type": "band", "domain": [0,1,2,3,4,5,6,7,8,9,10,11,12,13,14,15,16,17,18,19,20,21,22,23,24,25,26,27,28,29,30,31,32,33,34,35], "paddingInner": 0, "paddingOuter": 0}, "axis": {"orient": "bottom", "title": null, "labelExpr": "isValid(datum.value) ? datum.value % 3 + 1 : ''", "labelAngle": 0, "tickBand": "extent", "tickSize": 5, "labelPadding": 10, "labelOverlap": false, "grid": false}},
    "xOffset": {"field": "series", "type": "nominal", "scale": {"paddingInner": 0, "paddingOuter": 0.44}},
    "y": {"field": "mm", "type": "quantitative", "scale": {"domain": [0, 120]}, "axis": {"orient": "left", "title": "Rainfall (mm)", "values": [0, 20, 40, 60, 80, 100, 120], "grid": true, "tickSize": 5, "labelPadding": 9, "titlePadding": 16}},
    "color": {"field": "series", "type": "nominal", "scale": {"domain": ["Average", "Rainfall 2016", "NDVI Average", "NDVI 2016"], "range": ["#90ebd9", "#2d5683", "#34f034", "#14a84e"]}, "legend": {"orient": "none", "legendX": 42, "legendY": 425, "direction": "horizontal", "title": null}},
    "stroke": {"field": "series", "type": "nominal", "scale": {"domain": ["Average", "Rainfall 2016"], "range": ["#6ccab7", "#1f3f63"]}, "legend": null}}},
  {"data": {"name": "wbg_ndvi"}, "mark": {"type": "line", "strokeWidth": 2.5},
   "encoding": {
    "x": {"field": "dekad", "type": "ordinal", "scale": {"type": "band", "domain": [0,1,2,3,4,5,6,7,8,9,10,11,12,13,14,15,16,17,18,19,20,21,22,23,24,25,26,27,28,29,30,31,32,33,34,35], "paddingInner": 0, "paddingOuter": 0}, "axis": null},
    "y": {"field": "ndvi", "type": "quantitative", "scale": {"domain": [0, 1]}, "axis": {"orient": "right", "title": "NDVI", "values": [0, 0.2, 0.4, 0.6, 0.8, 1], "format": ".1~f", "grid": false, "tickSize": 6, "labelPadding": 4, "titleAngle": 270, "titleBaseline": "top", "titlePadding": 14}},
    "color": {"field": "series", "type": "nominal", "legend": null}}},
  {"data": {"name": "wbg_ndvi"}, "transform": [{"filter": "datum.series === 'NDVI 2016'"}], "mark": {"type": "point", "filled": false, "fill": "#d9f5e1", "size": 30, "strokeWidth": 2},
   "encoding": {
    "x": {"field": "dekad", "type": "ordinal", "scale": {"type": "band", "domain": [0,1,2,3,4,5,6,7,8,9,10,11,12,13,14,15,16,17,18,19,20,21,22,23,24,25,26,27,28,29,30,31,32,33,34,35], "paddingInner": 0, "paddingOuter": 0}, "axis": null},
    "y": {"field": "ndvi", "type": "quantitative", "scale": {"domain": [0, 1]}, "axis": null},
    "color": {"field": "series", "type": "nominal", "legend": null}}},
  {"data": {"name": "months"}, "mark": {"type": "tick", "opacity": 0},
   "encoding": {"x": {"field": "month", "type": "ordinal", "scale": {"type": "band", "domain": ["Jan","Feb","Mar","Apr","May","Jun","Jul","Aug","Sep","Oct","Nov","Dec"], "paddingInner": 0, "paddingOuter": 0},
    "axis": {"orient": "bottom", "offset": 46, "tickBand": "extent", "tickSize": 6, "labelPadding": 7, "labelAngle": 0, "labelOverlap": false, "grid": false, "title": "© WFP-VAM, CHIRPS/MODIS", "titleFontSize": 16, "titleColor": "#737373", "titleAnchor": "end", "titleAlign": "right", "titleBaseline": "middle", "titleX": 690, "titleY": 88}}}}],
 "resolve": {"scale": {"x": "independent", "y": "independent"}}},
{"title": "South Sudan - Northern Bahr El Ghazal - 2016", "width": 624, "height": 324,
 "layer": [
  {"data": {"name": "nbg_rain"}, "mark": {"type": "bar", "strokeWidth": 1},
   "encoding": {
    "x": {"field": "dekad", "type": "ordinal", "scale": {"type": "band", "domain": [0,1,2,3,4,5,6,7,8,9,10,11,12,13,14,15,16,17,18,19,20,21,22,23,24,25,26,27,28,29,30,31,32,33,34,35], "paddingInner": 0, "paddingOuter": 0}, "axis": {"orient": "bottom", "title": null, "labelExpr": "isValid(datum.value) ? datum.value % 3 + 1 : ''", "labelAngle": 0, "tickBand": "extent", "tickSize": 5, "labelPadding": 10, "labelOverlap": false, "grid": false}},
    "xOffset": {"field": "series", "type": "nominal", "scale": {"paddingInner": 0, "paddingOuter": 0.44}},
    "y": {"field": "mm", "type": "quantitative", "scale": {"domain": [0, 120]}, "axis": {"orient": "left", "title": "Rainfall (mm)", "values": [0, 20, 40, 60, 80, 100, 120], "grid": true, "tickSize": 5, "labelPadding": 9, "titlePadding": 16}},
    "color": {"field": "series", "type": "nominal", "scale": {"domain": ["Average", "Rainfall 2016", "NDVI Average", "NDVI 2016"], "range": ["#90ebd9", "#2d5683", "#34f034", "#14a84e"]}, "legend": {"orient": "none", "legendX": 42, "legendY": 425, "direction": "horizontal", "title": null}},
    "stroke": {"field": "series", "type": "nominal", "scale": {"domain": ["Average", "Rainfall 2016"], "range": ["#6ccab7", "#1f3f63"]}, "legend": null}}},
  {"data": {"name": "nbg_ndvi"}, "mark": {"type": "line", "strokeWidth": 2.5},
   "encoding": {
    "x": {"field": "dekad", "type": "ordinal", "scale": {"type": "band", "domain": [0,1,2,3,4,5,6,7,8,9,10,11,12,13,14,15,16,17,18,19,20,21,22,23,24,25,26,27,28,29,30,31,32,33,34,35], "paddingInner": 0, "paddingOuter": 0}, "axis": null},
    "y": {"field": "ndvi", "type": "quantitative", "scale": {"domain": [0, 1]}, "axis": {"orient": "right", "title": "NDVI", "values": [0, 0.2, 0.4, 0.6, 0.8, 1], "format": ".1~f", "grid": false, "tickSize": 6, "labelPadding": 4, "titleAngle": 270, "titleBaseline": "top", "titlePadding": 14}},
    "color": {"field": "series", "type": "nominal", "legend": null}}},
  {"data": {"name": "nbg_ndvi"}, "transform": [{"filter": "datum.series === 'NDVI 2016'"}], "mark": {"type": "point", "filled": false, "fill": "#d9f5e1", "size": 30, "strokeWidth": 2},
   "encoding": {
    "x": {"field": "dekad", "type": "ordinal", "scale": {"type": "band", "domain": [0,1,2,3,4,5,6,7,8,9,10,11,12,13,14,15,16,17,18,19,20,21,22,23,24,25,26,27,28,29,30,31,32,33,34,35], "paddingInner": 0, "paddingOuter": 0}, "axis": null},
    "y": {"field": "ndvi", "type": "quantitative", "scale": {"domain": [0, 1]}, "axis": null},
    "color": {"field": "series", "type": "nominal", "legend": null}}},
  {"data": {"name": "months"}, "mark": {"type": "tick", "opacity": 0},
   "encoding": {"x": {"field": "month", "type": "ordinal", "scale": {"type": "band", "domain": ["Jan","Feb","Mar","Apr","May","Jun","Jul","Aug","Sep","Oct","Nov","Dec"], "paddingInner": 0, "paddingOuter": 0},
    "axis": {"orient": "bottom", "offset": 46, "tickBand": "extent", "tickSize": 6, "labelPadding": 7, "labelAngle": 0, "labelOverlap": false, "grid": false, "title": "© WFP-VAM, CHIRPS/MODIS", "titleFontSize": 16, "titleColor": "#737373", "titleAnchor": "end", "titleAlign": "right", "titleBaseline": "middle", "titleX": 690, "titleY": 88}}}}],
 "resolve": {"scale": {"x": "independent", "y": "independent"}}},
{"title": "South Sudan - Warab - 2016", "width": 624, "height": 324,
 "layer": [
  {"data": {"name": "wr_rain"}, "mark": {"type": "bar", "strokeWidth": 1},
   "encoding": {
    "x": {"field": "dekad", "type": "ordinal", "scale": {"type": "band", "domain": [0,1,2,3,4,5,6,7,8,9,10,11,12,13,14,15,16,17,18,19,20,21,22,23,24,25,26,27,28,29,30,31,32,33,34,35], "paddingInner": 0, "paddingOuter": 0}, "axis": {"orient": "bottom", "title": null, "labelExpr": "isValid(datum.value) ? datum.value % 3 + 1 : ''", "labelAngle": 0, "tickBand": "extent", "tickSize": 5, "labelPadding": 10, "labelOverlap": false, "grid": false}},
    "xOffset": {"field": "series", "type": "nominal", "scale": {"paddingInner": 0, "paddingOuter": 0.44}},
    "y": {"field": "mm", "type": "quantitative", "scale": {"domain": [0, 120]}, "axis": {"orient": "left", "title": "Rainfall (mm)", "values": [0, 20, 40, 60, 80, 100, 120], "grid": true, "tickSize": 5, "labelPadding": 9, "titlePadding": 16}},
    "color": {"field": "series", "type": "nominal", "scale": {"domain": ["Average", "Rainfall 2016", "NDVI Average", "NDVI 2016"], "range": ["#90ebd9", "#2d5683", "#34f034", "#14a84e"]}, "legend": {"orient": "none", "legendX": 42, "legendY": 425, "direction": "horizontal", "title": null}},
    "stroke": {"field": "series", "type": "nominal", "scale": {"domain": ["Average", "Rainfall 2016"], "range": ["#6ccab7", "#1f3f63"]}, "legend": null}}},
  {"data": {"name": "wr_ndvi"}, "mark": {"type": "line", "strokeWidth": 2.5},
   "encoding": {
    "x": {"field": "dekad", "type": "ordinal", "scale": {"type": "band", "domain": [0,1,2,3,4,5,6,7,8,9,10,11,12,13,14,15,16,17,18,19,20,21,22,23,24,25,26,27,28,29,30,31,32,33,34,35], "paddingInner": 0, "paddingOuter": 0}, "axis": null},
    "y": {"field": "ndvi", "type": "quantitative", "scale": {"domain": [0, 1]}, "axis": {"orient": "right", "title": "NDVI", "values": [0, 0.2, 0.4, 0.6, 0.8, 1], "format": ".1~f", "grid": false, "tickSize": 6, "labelPadding": 4, "titleAngle": 270, "titleBaseline": "top", "titlePadding": 14}},
    "color": {"field": "series", "type": "nominal", "legend": null}}},
  {"data": {"name": "wr_ndvi"}, "transform": [{"filter": "datum.series === 'NDVI 2016'"}], "mark": {"type": "point", "filled": false, "fill": "#d9f5e1", "size": 30, "strokeWidth": 2},
   "encoding": {
    "x": {"field": "dekad", "type": "ordinal", "scale": {"type": "band", "domain": [0,1,2,3,4,5,6,7,8,9,10,11,12,13,14,15,16,17,18,19,20,21,22,23,24,25,26,27,28,29,30,31,32,33,34,35], "paddingInner": 0, "paddingOuter": 0}, "axis": null},
    "y": {"field": "ndvi", "type": "quantitative", "scale": {"domain": [0, 1]}, "axis": null},
    "color": {"field": "series", "type": "nominal", "legend": null}}},
  {"data": {"name": "months"}, "mark": {"type": "tick", "opacity": 0},
   "encoding": {"x": {"field": "month", "type": "ordinal", "scale": {"type": "band", "domain": ["Jan","Feb","Mar","Apr","May","Jun","Jul","Aug","Sep","Oct","Nov","Dec"], "paddingInner": 0, "paddingOuter": 0},
    "axis": {"orient": "bottom", "offset": 46, "tickBand": "extent", "tickSize": 6, "labelPadding": 7, "labelAngle": 0, "labelOverlap": false, "grid": false, "title": "© WFP-VAM, CHIRPS/MODIS", "titleFontSize": 16, "titleColor": "#737373", "titleAnchor": "end", "titleAlign": "right", "titleBaseline": "middle", "titleX": 690, "titleY": 88}}}}],
 "resolve": {"scale": {"x": "independent", "y": "independent"}}}
],
"config": {
 "font": "Liberation Sans",
 "view": {"stroke": null},
 "axis": {"labelFont": "Liberation Sans", "labelFontSize": 18.5, "labelColor": "#404040", "titleFont": "Liberation Sans", "titleFontSize": 19, "titleColor": "#404040", "titleFontWeight": "normal", "domainColor": "#8c8c8c", "tickColor": "#8c8c8c", "gridColor": "#d9d9d9"},
 "legend": {"symbolType": "square", "symbolSize": 169, "symbolStrokeWidth": 0, "labelFont": "Liberation Sans", "labelFontSize": 18.5, "labelColor": "#404040", "labelOffset": 10, "columnPadding": 9, "padding": 0},
 "title": {"font": "Liberation Sans", "fontSize": 25, "color": "#8c8c8c", "fontWeight": "normal", "anchor": "middle", "frame": "group", "offset": 19, "baseline": "alphabetic"}
}
}
